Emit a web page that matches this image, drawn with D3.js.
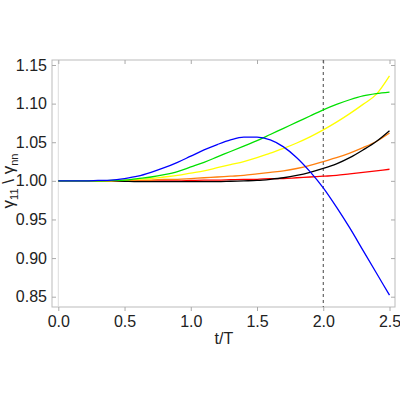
<!DOCTYPE html><html><head><script src="https://cdn.jsdelivr.net/npm/d3@7"></script>
<style>body{margin:0;background:#fff}</style></head><body><svg width="400" height="400"></svg><script>
const ts=[0,0.1,0.2,0.3,0.4,0.5,0.6,0.7,0.8,0.9,1.0,1.1,1.2,1.3,1.4,1.5,1.6,1.7,1.8,1.9,2.0,2.1,2.2,2.3,2.4,2.5];
const blue=[1,1,1,1.0005,1.001,1.003,1.006,1.011,1.017,1.024,1.032,1.040,1.047,1.053,1.0565,1.0565,1.053,1.044,1.030,1.012,0.991,0.966,0.939,0.910,0.881,0.852];
const green=[1,1,1,1,1.0005,1.001,1.003,1.005,1.008,1.012,1.018,1.024,1.031,1.038,1.045,1.052,1.060,1.068,1.076,1.084,1.092,1.099,1.105,1.110,1.113,1.115];
const yellow=[1,1,1,1,1,1.001,1.002,1.003,1.005,1.007,1.010,1.013,1.017,1.021,1.025,1.030,1.036,1.042,1.049,1.057,1.066,1.076,1.087,1.099,1.112,1.136];
const orange=[1,1,1,1,1,1,1.001,1.001,1.002,1.002,1.003,1.004,1.005,1.006,1.007,1.009,1.011,1.013,1.016,1.020,1.025,1.030,1.036,1.043,1.051,1.062];
const black=[1,1,1,1,1,0.9995,0.999,0.999,0.999,0.999,0.999,0.999,0.999,0.9995,1.0,1.0005,1.002,1.004,1.007,1.011,1.016,1.022,1.030,1.040,1.051,1.065];
const red=[1,1,1,1,1,1,1,1,1,1,1.0005,1.001,1.001,1.0015,1.002,1.002,1.003,1.003,1.004,1.005,1.006,1.007,1.009,1.011,1.013,1.015];
const series=[["red",red],["#ff7f0e",orange],["black",black],["yellow",yellow],["#00e000",green],["blue",blue]];
const xTicks=[0,0.5,1,1.5,2,2.5], yTicks=[0.85,0.9,0.95,1,1.05,1.1,1.15];
const svg=d3.select("svg");
const x=d3.scaleLinear().domain([0,2.5]).range([58.3,389.5]);
const y=d3.scaleLinear().domain([0.85,1.15]).range([296.7,65]);
const L=52,R=395,T=60,B=307;
svg.append("rect").attr("x",L).attr("y",T).attr("width",R-L).attr("height",B-T).attr("fill","none").attr("stroke","#bbb");
svg.append("line").attr("x1",x(0)).attr("x2",x(0)).attr("y1",T).attr("y2",B).attr("stroke","#ddd");
const fmt=d3.format(".1f"),fmt2=d3.format(".2f");
const gx=svg.append("g").attr("transform",`translate(0,${B})`).call(d3.axisBottom(x).tickValues(xTicks).tickFormat(fmt).tickSize(4));
const gy=svg.append("g").attr("transform",`translate(${L},0)`).call(d3.axisLeft(y).tickValues(yTicks).tickFormat(fmt2).tickSize(-4));
svg.append("g").attr("transform",`translate(0,${T})`).call(d3.axisTop(x).tickValues(xTicks).tickFormat("").tickSize(-4));
svg.append("g").attr("transform",`translate(${R},0)`).call(d3.axisRight(y).tickValues(yTicks).tickFormat("").tickSize(-4));
svg.selectAll(".domain").remove();
svg.selectAll(".tick line").attr("stroke","#aaa");
svg.selectAll(".tick text").attr("font-family","Liberation Sans, Arial").attr("font-size",16).attr("fill","#222");
gx.selectAll(".tick text").attr("y",7).attr("dy","0.8em");
gy.selectAll(".tick text").attr("x",-5);
svg.append("line").attr("x1",x(2)).attr("x2",x(2)).attr("y1",T).attr("y2",B).attr("stroke","#444").attr("stroke-dasharray","3,3");
const line=d3.line().x((d,i)=>x(ts[i])).y(d=>y(d)).curve(d3.curveMonotoneX);
series.forEach(([c,v])=>svg.append("path").attr("d",line(v)).attr("fill","none").attr("stroke",c).attr("stroke-width",1.3));
svg.append("text").attr("x",x(1.25)).attr("y",344).attr("text-anchor","middle").attr("font-family","Liberation Sans, Arial").attr("font-size",16).attr("fill","#222").text("t/T");
const yl=svg.append("text").attr("transform","translate(14,181) rotate(-90)").attr("text-anchor","middle").attr("font-family","Liberation Sans, Arial").attr("font-size",17).attr("fill","#222");
yl.append("tspan").text("γ");yl.append("tspan").attr("font-size",11).attr("dy",4).text("11");
yl.append("tspan").attr("dy",-4).text(" \\ γ");yl.append("tspan").attr("font-size",11).attr("dy",4).text("nn");
</script></body></html>
